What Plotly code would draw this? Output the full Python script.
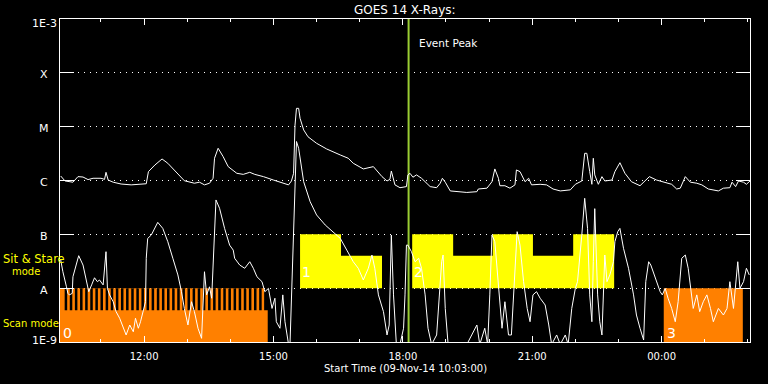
import numpy as np
import pandas as pd
import plotly.graph_objects as go

# ---------------- data ----------------
START = pd.Timestamp("2014-11-09 10:03")
END = pd.Timestamp("2014-11-10 02:03")
EVENT_PEAK = pd.Timestamp("2014-11-09 18:08")

# GOES long channel (1-8 A), minutes after start / flux W m^-2
LONG_T = [1, 7, 18, 25, 32, 39, 46, 57, 62, 64, 67, 74, 85, 99, 120, 123, 132, 142, 150, 164,
          173, 187, 194, 201, 208, 213, 215, 220, 227, 234, 241, 246, 255, 264, 271, 283, 297,
          311, 318, 322, 325, 327, 329, 332, 334, 339, 345, 357, 371, 390, 401, 408, 422, 436,
          448, 455, 459, 461, 466, 473, 482, 484, 487, 491, 496, 503, 515, 524, 529, 532, 536,
          543, 566, 580, 582, 594, 601, 605, 610, 612, 619, 626, 633, 635, 640, 647, 652, 656,
          668, 677, 686, 696, 710, 717, 726, 730, 733, 737, 740, 742, 744, 749, 754, 758, 768,
          772, 779, 786, 795, 807, 814, 820, 830, 842, 851, 858, 863, 870, 877, 886, 893, 902,
          916, 923, 932, 935, 940, 944, 951, 955, 960]
LONG_F = [1.21e-6, 9.8e-7, 9.3e-7, 1.18e-6, 1.16e-6, 1.04e-6, 1.10e-6, 1.10e-6, 1.05e-6, 1.42e-6,
          1.02e-6, 9.3e-7, 8.6e-7, 8.3e-7, 8.7e-7, 1.46e-6, 1.94e-6, 2.51e-6, 2.09e-6, 1.36e-6,
          9.9e-7, 8.9e-7, 9.3e-7, 8.3e-7, 8.9e-7, 1.10e-6, 2.59e-6, 3.97e-6, 2.77e-6, 1.81e-6,
          1.50e-6, 1.36e-6, 1.30e-6, 1.42e-6, 1.30e-6, 1.18e-6, 1.02e-6, 8.9e-7, 8.3e-7, 9.8e-7,
          1.36e-6, 1.07e-5, 2.19e-5, 2.19e-5, 1.43e-5, 8.7e-6, 6.5e-6, 4.91e-6, 3.85e-6, 2.98e-6,
          2.59e-6, 2.09e-6, 1.64e-6, 1.81e-6, 1.18e-6, 9.8e-7, 1.05e-6, 1.50e-6, 8.3e-7, 7.35e-7,
          7.7e-7, 1.27e-6, 1.36e-6, 1.15e-6, 1.27e-6, 1.10e-6, 7.7e-7, 7.35e-7, 8.9e-7, 1.10e-6,
          9.3e-7, 6.4e-7, 6.0e-7, 6.2e-7, 6.95e-7, 7.2e-7, 9.5e-7, 1.64e-6, 1.10e-6, 8.0e-7,
          8.0e-7, 7.2e-7, 8.3e-7, 1.57e-6, 1.46e-6, 9.5e-7, 1.10e-6, 8.3e-7, 8.5e-7, 8.3e-7,
          6.95e-7, 6.4e-7, 6.7e-7, 8.5e-7, 9.8e-7, 3.2e-6, 3.2e-6, 1.46e-6, 8.5e-7, 2.59e-6,
          1.27e-6, 8.5e-7, 1.18e-6, 9.8e-7, 1.02e-6, 1.46e-6, 2.14e-6, 1.36e-6, 9.5e-7, 8.0e-7,
          9.8e-7, 1.18e-6, 1.02e-6, 9.3e-7, 8.5e-7, 6.95e-7, 7.2e-7, 1.18e-6, 9.3e-7, 8.9e-7,
          8.3e-7, 6.95e-7, 6.4e-7, 7.2e-7, 7.35e-7, 9.3e-7, 7.7e-7, 9.8e-7, 9.3e-7, 8.5e-7, 9.8e-7]

# GOES short channel (0.5-4 A)
SHORT_T = [1, 4, 9, 11, 13, 17, 18, 23, 26, 32, 37, 40, 44, 48, 52, 55, 60, 63, 64, 66, 69, 74,
           78, 83, 88, 92, 97, 102, 105, 109, 112, 115, 119, 120, 122, 127, 132, 136, 143, 150,
           157, 164, 169, 173, 178, 183, 187, 192, 197, 199, 201, 204, 208, 211, 214, 217, 222,
           229, 236, 241, 243, 250, 257, 264, 269, 274, 281, 285, 290, 295, 299, 301, 306, 310,
           313, 318, 320, 325, 327, 329, 332, 339, 348, 357, 369, 380, 390, 399, 408, 415, 422,
           429, 434, 438, 443, 450, 455, 458, 461, 464, 468, 473, 478, 480, 482, 484, 489, 494,
           499, 503, 508, 512, 517, 524, 529, 531, 533, 536, 540, 550, 566, 580, 584, 591, 595,
           598, 601, 605, 610, 615, 619, 624, 628, 633, 636, 640, 645, 650, 654, 658, 663, 668,
           675, 680, 684, 691, 696, 703, 707, 712, 717, 720, 723, 726, 730, 734, 737, 740, 742,
           744, 748, 751, 754, 758, 761, 765, 770, 772, 776, 779, 784, 791, 798, 802, 807, 812,
           815, 819, 822, 828, 835, 838, 842, 846, 851, 856, 860, 865, 870, 874, 878, 881, 886,
           890, 895, 900, 905, 909, 916, 923, 928, 932, 937, 943, 946, 951, 955, 959]
SHORT_F = [3.34e-8, 2.02e-8, 1.06e-8, 8.0e-9, 7.5e-9, 8.0e-9, 1.63e-8, 3.10e-8, 4.01e-8, 2.69e-8,
           1.32e-8, 8.6e-9, 1.15e-8, 1.56e-8, 1.32e-8, 1.42e-8, 1.15e-8, 2.69e-8, 4.76e-8, 9.9e-9,
           7.5e-9, 5.6e-9, 3.66e-9, 2.76e-9, 1.80e-9, 1.35e-9, 2.07e-9, 1.55e-9, 2.76e-9, 1.80e-9,
           2.38e-9, 3.66e-9, 5.6e-9, 3.59e-8, 8.4e-8, 9.7e-8, 1.29e-7, 1.67e-7, 1.29e-7, 7.3e-8,
           3.59e-8, 1.76e-8, 8.6e-9, 4.2e-9, 2.07e-9, 5.6e-9, 3.66e-9, 1.80e-9, 1.17e-9, 4.2e-9,
           2.02e-8, 7.5e-9, 1.06e-8, 6.5e-9, 6.3e-8, 4.35e-7, 3.05e-7, 1.29e-7, 6.3e-8, 5.1e-8,
           3.59e-8, 2.69e-8, 2.34e-8, 3.10e-8, 2.34e-8, 1.63e-8, 1.32e-8, 8.6e-9, 9.9e-9, 4.2e-9,
           6.5e-9, 2.38e-9, 1.80e-9, 7.5e-9, 2.38e-9, 9e-10, 9e-10, 9.7e-8, 1.46e-6, 5.3e-6,
           3.97e-6, 9.5e-7, 4.04e-7, 2.29e-7, 1.49e-7, 1.12e-7, 8.4e-8, 5.1e-8, 3.10e-8, 2.34e-8,
           1.42e-8, 2.34e-8, 4.13e-8, 2.34e-8, 7.5e-9, 3.66e-9, 1.35e-9, 2.07e-9, 9.7e-8, 7.5e-9,
           9e-10, 9e-10, 1.80e-9, 7.5e-9, 6.3e-8, 6.3e-8, 4.76e-8, 3.10e-8, 3.59e-8, 2.34e-8,
           7.5e-9, 1.80e-9, 9e-10, 1.35e-9, 1.32e-8, 3.10e-8, 4.13e-8, 4.2e-9, 9e-10, 9e-10,
           9e-10, 2.07e-9, 9e-10, 1.80e-9, 9e-10, 7.5e-9, 9.7e-8, 7.3e-8, 1.32e-8, 1.80e-9,
           5.6e-9, 1.35e-9, 1.35e-9, 3.10e-8, 1.12e-7, 6.3e-8, 1.32e-8, 4.2e-9, 2.38e-9, 7.5e-9,
           8.6e-9, 6.5e-9, 4.87e-9, 2.07e-9, 9e-10, 1.35e-9, 9e-10, 1.35e-9, 9e-10, 4.2e-9,
           9.9e-9, 1.32e-8, 3.10e-8, 9.7e-8, 4.67e-7, 1.29e-7, 7.5e-9, 2.38e-9, 3.10e-8, 3.0e-7,
           7.5e-9, 2.38e-9, 1.35e-9, 4.13e-8, 1.32e-8, 1.76e-8, 3.10e-8, 7.3e-8, 1.12e-7, 1.29e-7,
           5.5e-8, 2.34e-8, 7.5e-9, 3.17e-9, 1.80e-9, 1.09e-9, 1.32e-8, 3.10e-8, 2.69e-8, 1.63e-8,
           8.6e-9, 7.5e-9, 9.9e-9, 6.5e-9, 4.2e-9, 2.38e-9, 5.6e-9, 3.59e-8, 4.13e-8, 2.34e-8,
           7.5e-9, 4.2e-9, 7.5e-9, 3.66e-9, 5.6e-9, 7.5e-9, 4.2e-9, 2.38e-9, 4.2e-9, 3.17e-9,
           4.2e-9, 1.32e-8, 4.2e-9, 3.10e-8, 9.9e-9, 1.32e-8, 2.34e-8, 1.76e-8]

# Scan-mode periods (minutes after start) and their labels
SCAN_START = [0, 840]
SCAN_END = [289, 950]
SCAN_LABEL = ["0", "3"]
SCAN_STRIPE_END = 284          # last scan step of first block
SCAN_STEP_GAPS = [6.5, 13.6, 20.7, 27.9, 35.0, 42.1, 49.2, 56.3, 63.5, 70.6, 77.7, 84.8, 91.9,
                  99.1, 106.2, 113.3, 120.4, 127.5, 134.7, 141.8, 148.9, 156.0, 163.1, 170.3,
                  177.4, 184.5, 191.6, 198.7, 205.9, 213.0, 220.1, 227.2, 234.3, 241.5, 248.6,
                  255.7, 262.8, 269.9, 277.1]
SCAN_GAP_WIDTH = 3.5
SCAN_LEVEL_LOW = 3.9e-9

# Sit & Stare periods (minutes after start): start, end, top level
STARE_START = [334, 391, 490, 547, 602, 658, 714]
STARE_END = [391, 448, 547, 602, 658, 714, 771]
STARE_TOP = [1e-7, 4e-8, 1e-7, 4e-8, 1e-7, 4e-8, 1e-7]
STARE_LABELS = [("1", 334), ("2", 490)]

Y_TICK_VALS = [1e-9, 1e-8, 1e-7, 1e-6, 1e-5, 1e-4, 1e-3]
Y_TICK_TEXT = ["1E-9", "A", "B", "C", "M", "X", "1E-3"]

YMIN, YMAX = 1e-9, 1e-3


def tm(m):
    return START + pd.Timedelta(minutes=float(m))


def rects(specs):
    xs, ys = [], []
    for t0, t1, y0, y1 in specs:
        xs += [tm(t0), tm(t1), tm(t1), tm(t0), tm(t0), None]
        ys += [y0, y0, y1, y1, y0, None]
    return xs, ys


fig = go.Figure()

ORANGE = "#ff8000"
YELLOW = "#ffff00"

# scan mode boxes
scan_specs = []
for s, e in zip(SCAN_START, SCAN_END):
    if s == 0:
        scan_specs.append((s, e, YMIN, SCAN_LEVEL_LOW))
        scan_specs.append((s, SCAN_STRIPE_END, SCAN_LEVEL_LOW, 1e-8))
    else:
        scan_specs.append((s, e, YMIN, 1e-8))
x, y = rects(scan_specs)
fig.add_trace(go.Scatter(x=x, y=y, fill="toself", fillcolor=ORANGE, mode="lines",
                         line=dict(width=0, color=ORANGE), hoverinfo="skip"))
gap_specs = [(g, g + SCAN_GAP_WIDTH, SCAN_LEVEL_LOW, 1e-8) for g in SCAN_STEP_GAPS]
x, y = rects(gap_specs)
fig.add_trace(go.Scatter(x=x, y=y, fill="toself", fillcolor="black", mode="lines",
                         line=dict(width=0, color="black"), hoverinfo="skip"))

# sit & stare boxes
stare_specs = [(s, e, 1e-8, t) for s, e, t in zip(STARE_START, STARE_END, STARE_TOP)]
x, y = rects(stare_specs)
fig.add_trace(go.Scatter(x=x, y=y, fill="toself", fillcolor=YELLOW, mode="lines",
                         line=dict(width=0, color=YELLOW), hoverinfo="skip"))

# event peak line
fig.add_trace(go.Scatter(x=[EVENT_PEAK, EVENT_PEAK], y=[YMIN, YMAX], mode="lines",
                         line=dict(color="#9acd32", width=2), hoverinfo="skip"))

# flux curves
fig.add_trace(go.Scatter(x=[tm(t) for t in LONG_T], y=LONG_F, mode="lines",
                         line=dict(color="white", width=1)))
fig.add_trace(go.Scatter(x=[tm(t) for t in SHORT_T], y=SHORT_F, mode="lines",
                         line=dict(color="white", width=1)))

FONT = "DejaVu Sans"
ann = []
# y labels centered left of axis
for v, t in zip(Y_TICK_VALS, Y_TICK_TEXT):
    shift = -2
    if v == YMAX:
        shift = -4
    elif v == YMIN:
        shift = 2
    ann.append(dict(x=-16 / 690, xref="paper", y=np.log10(v), yref="y", text=t,
                    showarrow=False, xanchor="center", yanchor="middle", yshift=shift,
                    font=dict(family=FONT, size=11, color="white")))

# title and axis title
ann.append(dict(x=0.5, xref="paper", y=1 + 9.5 / 323, yref="paper", text="GOES 14 X-Rays:",
                showarrow=False, xanchor="center", yanchor="middle",
                font=dict(family=FONT, size=12, color="white")))
ann.append(dict(x=0.5, xref="paper", y=-26.5 / 323, yref="paper",
                text="Start Time (09-Nov-14 10:03:00)", showarrow=False,
                xanchor="center", yanchor="middle",
                font=dict(family=FONT, size=10, color="white")))
# event peak label
ann.append(dict(x=EVENT_PEAK, xref="x", y=1 - 24.3 / 323, yref="paper", text="Event Peak",
                showarrow=False, xanchor="left", yanchor="middle", xshift=8,
                font=dict(family=FONT, size=10.5, color="white")))
# mode labels
for txt, px, py, fs in [("Sit & Stare", 1.0, 258.5, 11.5), ("mode", 10.0, 271.5, 10),
                        ("Scan mode", 1.0, 323.5, 10)]:
    ann.append(dict(x=(px - 60) / 690, xref="paper", y=(342 - py) / 323, yref="paper",
                    text=txt, showarrow=False, xanchor="left", yanchor="middle",
                    font=dict(family=FONT, size=fs, color=YELLOW)))
# box numbers
for lbl, s in zip(SCAN_LABEL, SCAN_START):
    ann.append(dict(x=tm(s), xref="x", y=np.log10(1.47e-9), yref="y", text=lbl,
                    showarrow=False, xanchor="left", yanchor="middle", xshift=1,
                    font=dict(family=FONT, size=14, color="white")))
for lbl, s in STARE_LABELS:
    ann.append(dict(x=tm(s), xref="x", y=np.log10(2.0e-8), yref="y", text=lbl,
                    showarrow=False, xanchor="left", yanchor="middle", xshift=0,
                    font=dict(family=FONT, size=14, color="white")))

fig.update_layout(
    width=768, height=384,
    margin=dict(l=60, r=18, t=19, b=42),
    paper_bgcolor="black", plot_bgcolor="black",
    showlegend=False,
    font=dict(family=FONT, color="white", size=10),
    annotations=ann,
    xaxis=dict(
        type="date", range=[START, END],
        showline=True, linecolor="white", linewidth=1, mirror="ticks",
        ticks="inside", ticklen=6, tickcolor="white", tickwidth=1,
        tick0="2014-11-09 12:00", dtick=3 * 3600 * 1000, tickformat="%H:%M",
        tickfont=dict(family=FONT, size=10, color="white"), ticklabelstandoff=5,
        showgrid=False, zeroline=False, automargin=False,
        minor=dict(ticks="inside", ticklen=3, dtick=3600 * 1000, tick0="2014-11-09 12:00",
                   tickcolor="white", tickwidth=1, showgrid=False),
    ),
    yaxis=dict(
        type="log", range=[-9, -3],
        showline=True, linecolor="white", linewidth=1, mirror="ticks",
        ticks="inside", ticklen=14, tickcolor="white", tickwidth=1,
        tickvals=Y_TICK_VALS, showticklabels=False, automargin=False,
        showgrid=True, gridcolor="white", gridwidth=1, griddash="1px,5px",
        zeroline=False,
    ),
)

fig.write_html("out.html", config={"displayModeBar": False},
               post_script="document.body.style.margin='0px';")
